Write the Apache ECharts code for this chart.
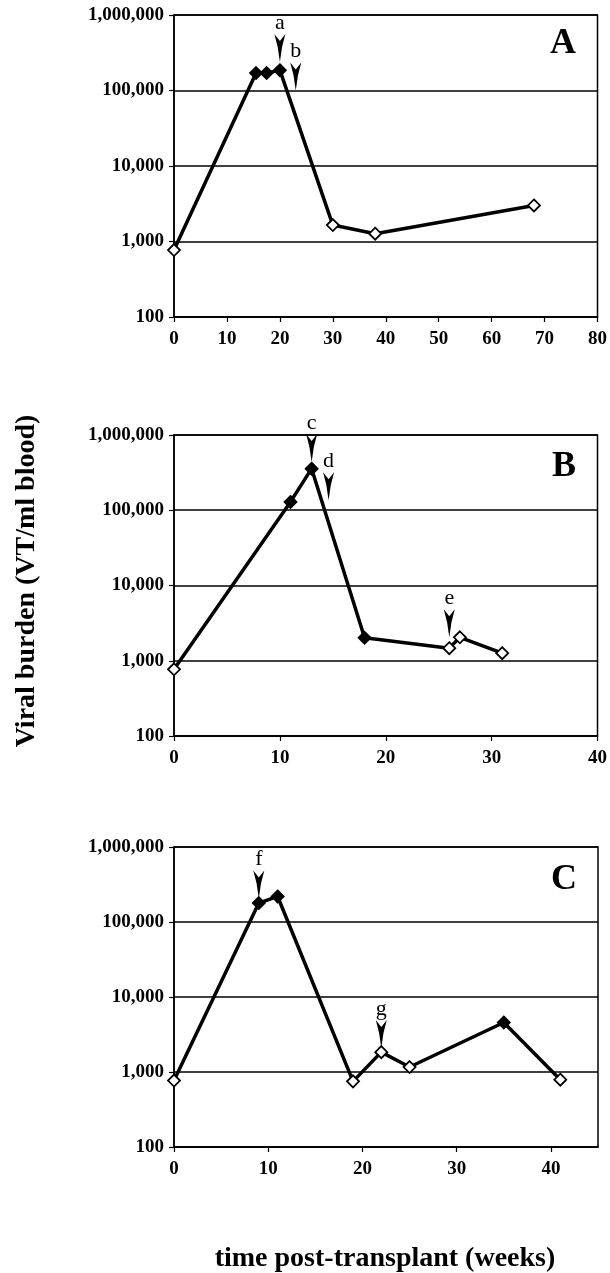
<!DOCTYPE html>
<html><head><meta charset="utf-8">
<script src="https://cdn.jsdelivr.net/npm/echarts@6/dist/echarts.min.js"></script>
<style>html,body{margin:0;padding:0;background:#fff}#c{width:610px;height:1273px}</style>
</head><body><div id="c"></div>
<script>
// ---- data ----
const panelNames = ['A', 'B', 'C'];
const yTickLabels = ['100', '1,000', '10,000', '100,000', '1,000,000'];
const xTicksA = [0, 10, 20, 30, 40, 50, 60, 70, 80];
const xTicksB = [0, 10, 20, 30, 40];
const xTicksC = [0, 10, 20, 30, 40];
const xMaxA = 80, xMaxB = 40, xMaxC = 45;

const aWeeks  = [0, 15.5, 17.5, 20, 30, 38, 68];
const aBurden = [770, 170000, 170000, 186000, 1650, 1270, 3000];
const aFilled = [false, true, true, true, false, false, false];

const bWeeks  = [0, 11, 13, 18, 26, 27, 31];
const bBurden = [770, 129000, 357000, 2020, 1470, 2050, 1260];
const bFilled = [false, true, true, true, false, false, false];

const cWeeks  = [0, 9, 11, 19, 22, 25, 35, 41];
const cBurden = [770, 179000, 219000, 750, 1840, 1165, 4570, 790];
const cFilled = [false, true, true, false, false, false, true, false];

// arrow annotations: week, value at arrow tip, letter
const aArrowWeeks = [20, 23];
const aArrowTip   = [238000, 100000];
const aArrowText  = ['a', 'b'];
const bArrowWeeks = [13, 14.6, 26];
const bArrowTip   = [437000, 136000, 2050];
const bArrowText  = ['c', 'd', 'e'];
const cArrowWeeks = [9, 22];
const cArrowTip   = [205000, 2090];
const cArrowText  = ['f', 'g'];

const yTitle = 'Viral burden (VT/ml blood)';
const xTitle = 'time post-transplant (weeks)';

// ---- chart ----
const SERIF = "'Liberation Serif','Times New Roman',serif";
const panels = [
  {w: aWeeks, v: aBurden, f: aFilled, ax: aArrowWeeks, at: aArrowTip, tx: aArrowText, ticks: xTicksA, max: xMaxA},
  {w: bWeeks, v: bBurden, f: bFilled, ax: bArrowWeeks, at: bArrowTip, tx: bArrowText, ticks: xTicksB, max: xMaxB},
  {w: cWeeks, v: cBurden, f: cFilled, ax: cArrowWeeks, at: cArrowTip, tx: cArrowText, ticks: xTicksC, max: xMaxC}
];
const gridPos = [
  {left: 174, top: 15, width: 424, height: 302},
  {left: 174, top: 435, width: 424, height: 301},
  {left: 174, top: 847, width: 424, height: 300}
];
const letterPos = [[563, 44], [564, 467], [564, 880]];
const arrowPath = 'path://M0 0 L5 7 L10 0 L7 13 L5 28 L3 13 Z';

const grids = [], xAxes = [], yAxes = [], series = [], graphics = [];
panels.forEach((p, i) => {
  grids.push(Object.assign({show: true, borderColor: '#000', borderWidth: 1.5, backgroundColor: 'transparent'}, gridPos[i]));
  xAxes.push({
    type: 'value', gridIndex: i, min: 0, max: p.max, interval: 10,
    axisLine: {show: true, lineStyle: {color: '#000', width: 1.5}},
    axisTick: {show: true, length: 5, lineStyle: {color: '#000', width: 1.2},
      customValues: p.ticks},
    splitLine: {show: false},
    axisLabel: {
      margin: 13, color: '#000', fontFamily: SERIF, fontWeight: 'bold', fontSize: 19,
      customValues: p.ticks,
      formatter: v => (p.ticks.indexOf(v) >= 0 ? String(v) : '')
    }
  });
  yAxes.push({
    type: 'log', logBase: 10, gridIndex: i, min: 100, max: 1000000,
    axisLine: {show: true, lineStyle: {color: '#000', width: 1.5}},
    axisTick: {show: true, length: 5, lineStyle: {color: '#000', width: 1.2}},
    splitLine: {show: true, lineStyle: {color: '#000', width: 1.5}},
    minorTick: {show: false},
    axisLabel: {
      margin: 10, color: '#000', fontFamily: SERIF, fontWeight: 'bold', fontSize: 19,
      formatter: v => yTickLabels[Math.round(Math.log10(v)) - 2] || ''
    }
  });
  series.push({
    type: 'line', xAxisIndex: i, yAxisIndex: i, z: 3,
    symbol: 'diamond', symbolSize: 12, showAllSymbol: true,
    lineStyle: {color: '#000', width: 3.5},
    itemStyle: {borderColor: '#000', borderWidth: 1.8, opacity: 1},
    data: p.w.map((w, j) => ({value: [w, p.v[j]], itemStyle: {color: p.f[j] ? '#000' : '#fff'}})),
    animation: false
  });
  series.push({
    type: 'scatter', xAxisIndex: i, yAxisIndex: i, z: 5,
    symbol: arrowPath, symbolSize: [11, 28], symbolOffset: [0, -14],
    itemStyle: {color: '#000', opacity: 1},
    label: {show: true, position: 'top', distance: 0, color: '#000', opacity: 1,
      fontFamily: SERIF, fontSize: 22, formatter: d => d.name},
    data: p.ax.map((w, j) => ({name: p.tx[j], value: [w, p.at[j]]})),
    animation: false
  });
  graphics.push({
    type: 'text', x: letterPos[i][0], y: letterPos[i][1],
    style: {text: panelNames[i], textAlign: 'center', textVerticalAlign: 'middle', align: 'center', verticalAlign: 'middle',
      font: "bold 36px 'Liberation Serif','Times New Roman',serif", fill: '#000'}
  });
});
graphics.push({
  type: 'text', x: 27, y: 581, rotation: Math.PI / 2,
  style: {text: yTitle, textAlign: 'center', textVerticalAlign: 'middle', align: 'center', verticalAlign: 'middle',
    font: "bold 28px 'Liberation Serif','Times New Roman',serif", fill: '#000'}
});
graphics.push({
  type: 'text', x: 385, y: 1259,
  style: {text: xTitle, textAlign: 'center', textVerticalAlign: 'middle', align: 'center', verticalAlign: 'middle',
    font: "bold 28px 'Liberation Serif','Times New Roman',serif", fill: '#000'}
});

const chart = echarts.init(document.getElementById('c'), null, {renderer: 'canvas'});
chart.setOption({
  animation: false,
  backgroundColor: '#fff',
  grid: grids, xAxis: xAxes, yAxis: yAxes, series: series, graphic: graphics
});
</script>
</body></html>
